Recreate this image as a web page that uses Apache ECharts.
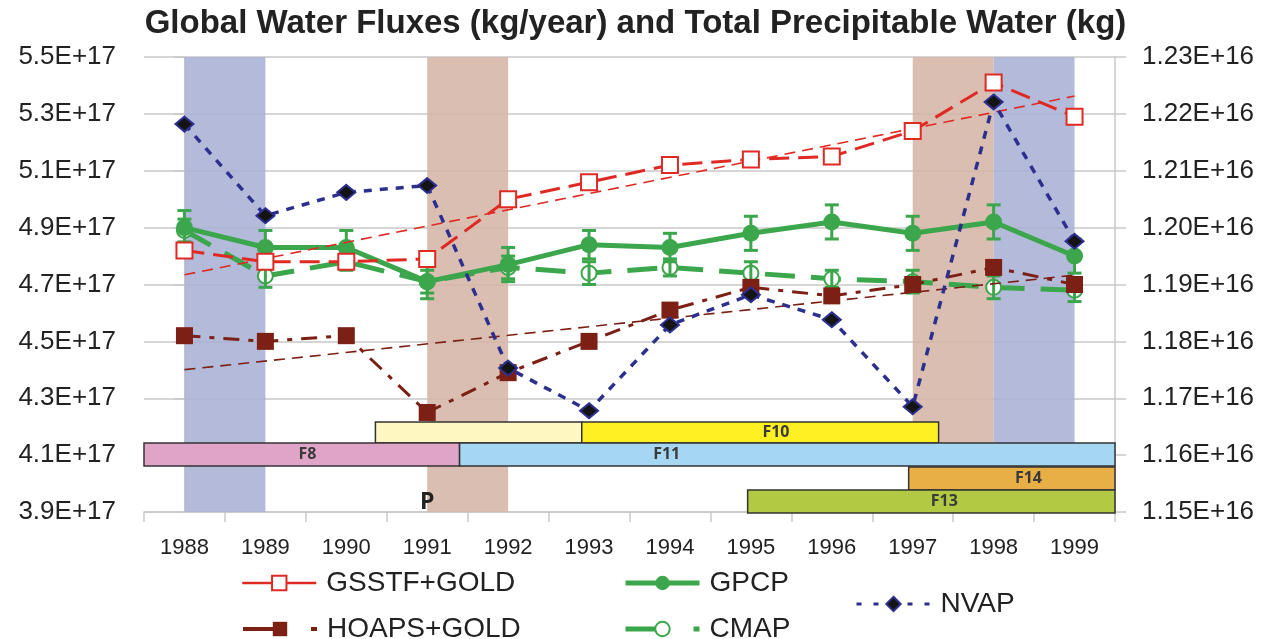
<!DOCTYPE html>
<html>
<head>
<meta charset="utf-8">
<title>Global Water Fluxes and Total Precipitable Water</title>
<script src="https://cdn.jsdelivr.net/npm/echarts@6/dist/echarts.min.js"></script>
<style>
  html, body { margin: 0; padding: 0; background: #ffffff; }
  #chart { width: 1271px; height: 639px; }
</style>
</head>
<body>
<div id="chart"></div>
<script>
// ---- Data -------------------------------------------------------------
const years = ['1988', '1989', '1990', '1991', '1992', '1993',
               '1994', '1995', '1996', '1997', '1998', '1999'];

// Global water fluxes, 1E+17 kg/year (left axis)
const gsstfGold = [4.82, 4.78, 4.78, 4.79, 5.00, 5.06, 5.12, 5.14, 5.15, 5.24, 5.41, 5.29];
const hoapsGold = [4.52, 4.50, 4.52, 4.25, 4.39, 4.50, 4.61, 4.69, 4.66, 4.70, 4.76, 4.70];
const gpcp      = [4.90, 4.83, 4.83, 4.71, 4.77, 4.84, 4.83, 4.88, 4.92, 4.88, 4.92, 4.80];
const gpcpErr   = [0.06, 0.06, 0.06, 0.06, 0.06, 0.05, 0.05, 0.06, 0.06, 0.06, 0.06, 0.06];
const cmap      = [4.89, 4.73, 4.78, 4.71, 4.76, 4.74, 4.76, 4.74, 4.72, 4.71, 4.69, 4.68];
const cmapErr   = [0.04, 0.04, 0.03, 0.04, 0.04, 0.04, 0.03, 0.04, 0.03, 0.04, 0.04, 0.04];

// Total precipitable water, 1E+16 kg (right axis)
const nvap = [1.2182, 1.2021, 1.2062, 1.2074, 1.1753, 1.1678, 1.1829, 1.1882, 1.1838, 1.1685, 1.2221, 1.1976];

// Axis tick labels
const fluxTickLabels = ['3.9E+17', '4.1E+17', '4.3E+17', '4.5E+17', '4.7E+17',
                        '4.9E+17', '5.1E+17', '5.3E+17', '5.5E+17'];
const tpwTickLabels  = ['1.15E+16', '1.16E+16', '1.17E+16', '1.18E+16', '1.19E+16',
                        '1.20E+16', '1.21E+16', '1.22E+16', '1.23E+16'];
const fluxFloor = 3.9;   // lowest left tick, 1E+17 kg/year
const fluxStep = 0.2;
const tpwFloor = 1.15;   // lowest right tick, 1E+16 kg
const tpwStep = 0.01;

// ENSO episodes (shaded, from one year to the next)
const ensoFrom  = ['1988', '1991', '1997', '1998'];
const ensoTo    = ['1989', '1992', '1998', '1999'];
const ensoPhase = ['La Niña', 'El Niño', 'El Niño', 'La Niña'];

// SSM/I satellite records (calendar years)
const satName    = ['',      'F10',   'F8',    'F11',   'F14',   'F13'];
const satStart   = [1990.86, 1993.41, 1988.00, 1991.90, 1997.45, 1995.46];
const satEnd     = [1993.41, 1997.82, 1991.90, 2000.00, 2000.00, 2000.00];
const satLabelAt = [null,    1995.81, 1990.02, 1994.46, 1998.93, 1997.89];

// Pinatubo eruption marker
const eruptionYear = '1991';
const eruptionLabel = 'P';

// ---- Styling ----------------------------------------------------------
const FONT = '"Liberation Sans", Arial, sans-serif';
const RED = '#df2a24';
const DARKRED = '#7c1f14';
const GREEN = '#3ca64c';
const NAVY = '#2d2f8f';
const GRID = '#c9c9c9';
const satRow   = [0, 0, 1, 1, 2, 3];
const satColor = ['#fff7c2', '#fff023', '#e1a4c9', '#a5d7f2', '#e7af46', '#b1c943'];
const rowBox = [[90, 69], [69, 46], [45, 22], [22, -1]]; // px above plot bottom (top, bottom)
const ensoColor = { 'La Niña': 'rgba(168,176,213,0.87)', 'El Niño': 'rgba(213,180,165,0.87)' };

// ---- Helpers ----------------------------------------------------------
const toFlux = v => +(v - fluxFloor).toFixed(6);
const toTpw = v => +((v - tpwFloor) / tpwStep).toFixed(6);

// least-squares linear trend across the whole record
function linearTrend(vals) {
  const n = vals.length;
  let sx = 0, sy = 0, sxx = 0, sxy = 0;
  vals.forEach((y, x) => { sx += x; sy += y; sxx += x * x; sxy += x * y; });
  const b = (n * sxy - sx * sy) / (n * sxx - sx * sx);
  const a = (sy - b * sx) / n;
  return [[0, toFlux(a)], [n - 1, toFlux(a + b * (n - 1))]];
}

function errorBars(color, lineWidth, capHalf) {
  return function (params, api) {
    const x = api.value(0), y = api.value(1), e = api.value(2);
    const hi = api.coord([x, y + e]);
    const lo = api.coord([x, y - e]);
    const st = { stroke: color, lineWidth: lineWidth };
    return {
      type: 'group',
      children: [
        { type: 'line', shape: { x1: hi[0], y1: hi[1], x2: lo[0], y2: lo[1] }, style: st },
        { type: 'line', shape: { x1: hi[0] - capHalf, y1: hi[1], x2: hi[0] + capHalf, y2: hi[1] }, style: st },
        { type: 'line', shape: { x1: lo[0] - capHalf, y1: lo[1], x2: lo[0] + capHalf, y2: lo[1] }, style: st }
      ]
    };
  };
}

const chart = echarts.init(document.getElementById('chart'));

const legendBase = {
  orient: 'horizontal', padding: 0, itemWidth: 74, itemHeight: 18,
  selectedMode: false,
  textStyle: { fontFamily: FONT, fontSize: 28, color: '#222', padding: [0, 0, 0, 5] }
};

const option = {
  backgroundColor: '#ffffff',
  animation: false,
  title: {
    text: 'Global Water Fluxes (kg/year) and Total Precipitable Water (kg)',
    left: 'center',
    top: 2,
    textStyle: { fontFamily: FONT, fontSize: 33, fontWeight: 'bold', color: '#222' }
  },
  legend: [
    { data: [{ name: 'GSSTF+GOLD', lineStyle: { type: 'solid', width: 2.5 } }], left: 241, top: 569 },
    { data: [{ name: 'GPCP', lineStyle: { type: 'solid', width: 5 } }], left: 623, top: 569 },
    { data: [{ name: 'HOAPS+GOLD', lineStyle: { type: [44, 24, 6, 100], width: 4 } }], left: 241, top: 615 },
    { data: [{ name: 'CMAP', lineStyle: { type: [44, 24, 6, 100], width: 5 } }], left: 623, top: 615 },
    { data: [{ name: 'NVAP', lineStyle: { type: [5, 12], width: 3 } }], left: 855, top: 590 }
  ].map(l => Object.assign({}, legendBase, l)),
  grid: { left: 144, right: 156, top: 57, bottom: 127, show: false },
  xAxis: [
    {
      type: 'category', data: years, boundaryGap: true,
      axisLine: { show: true, lineStyle: { color: GRID, width: 1.5 } },
      axisTick: { show: true, length: 10, lineStyle: { color: GRID, width: 1.5 } },
      axisLabel: { fontFamily: FONT, fontSize: 22, color: '#222', margin: 25 },
      splitLine: { show: false }
    },
    { type: 'value', min: -0.5, max: years.length - 0.5, show: false }
  ],
  yAxis: [
    {
      type: 'value', position: 'left',
      min: 0, max: (fluxTickLabels.length - 1) * fluxStep, interval: fluxStep,
      axisLine: { show: true, lineStyle: { color: GRID, width: 1.5 } },
      axisTick: { show: true, length: 11, lineStyle: { color: GRID, width: 1.5 } },
      splitLine: { show: true, lineStyle: { color: GRID, width: 1.5 } },
      axisLabel: { fontFamily: FONT, fontSize: 26, color: '#222', margin: 28,
                   formatter: (v, i) => fluxTickLabels[i] }
    },
    {
      type: 'value', position: 'right',
      min: 0, max: tpwTickLabels.length - 1, interval: 1,
      axisLine: { show: true, lineStyle: { color: GRID, width: 1.5 } },
      axisTick: { show: true, length: 11, lineStyle: { color: GRID, width: 1.5 } },
      splitLine: { show: false },
      axisLabel: { fontFamily: FONT, fontSize: 26, color: '#222', margin: 27,
                   formatter: (v, i) => tpwTickLabels[i] }
    }
  ],
  series: [
    // ENSO shading
    {
      type: 'custom', name: 'ENSO', xAxisIndex: 1, yAxisIndex: 0, silent: true, z: 1,
      data: ensoFrom.map((f, i) => [years.indexOf(f), years.indexOf(ensoTo[i]), i]),
      renderItem: function (params, api) {
        const cs = params.coordSys;
        const x1 = api.coord([api.value(0), 0])[0];
        const x2 = api.coord([api.value(1), 0])[0];
        return {
          type: 'rect',
          shape: { x: x1, y: cs.y, width: x2 - x1, height: cs.height },
          style: { fill: ensoColor[ensoPhase[api.value(2)]] }
        };
      }
    },
    // Satellite records
    {
      type: 'custom', name: 'SSM/I', xAxisIndex: 1, yAxisIndex: 0, silent: true, z: 3,
      data: satName.map((n, i) => [satStart[i] - 1988.5, satEnd[i] - 1988.5, i]),
      renderItem: function (params, api) {
        const cs = params.coordSys;
        const i = api.value(2);
        const bottom = cs.y + cs.height;
        const box = rowBox[satRow[i]];
        const x1 = api.coord([api.value(0), 0])[0];
        const x2 = api.coord([api.value(1), 0])[0];
        const children = [{
          type: 'rect',
          shape: { x: x1, y: bottom - box[0], width: x2 - x1, height: box[0] - box[1] },
          style: { fill: satColor[i], stroke: '#333', lineWidth: 1.5 }
        }];
        if (satName[i]) {
          children.push({
            type: 'text',
            style: {
              x: api.coord([satLabelAt[i] - 1988.5, 0])[0],
              y: bottom - (box[0] + box[1]) / 2,
              text: satName[i], align: 'center', verticalAlign: 'middle',
              font: 'bold 16px "Open Sans", sans-serif', fill: '#3a3a3a'
            }
          });
        }
        return { type: 'group', children: children };
      }
    },
    // Eruption marker
    {
      type: 'custom', name: 'Pinatubo', xAxisIndex: 0, yAxisIndex: 0, silent: true, z: 3,
      data: [[years.indexOf(eruptionYear), 0]],
      renderItem: function (params, api) {
        const p = api.coord([api.value(0), api.value(1)]);
        return {
          type: 'text',
          style: { x: p[0], y: p[1] + 2, text: eruptionLabel, align: 'center', verticalAlign: 'bottom',
                   font: 'bold 23px "Open Sans", sans-serif', fill: '#222' }
        };
      }
    },
    // CMAP line + error bars (bars drawn over the hollow markers)
    {
      type: 'line', name: 'CMAP', xAxisIndex: 0, yAxisIndex: 0, z: 4,
      data: cmap.map(toFlux),
      color: GREEN,
      symbol: 'emptyCircle', symbolSize: 15,
      itemStyle: { color: GREEN, borderColor: GREEN, borderWidth: 2 },
      lineStyle: { color: GREEN, width: 5, type: [30, 16] }
    },
    {
      type: 'custom', name: 'CMAP error', xAxisIndex: 0, yAxisIndex: 0, silent: true, z: 5,
      data: cmap.map((v, i) => [i, toFlux(v), cmapErr[i]]),
      renderItem: errorBars(GREEN, 3, 7)
    },
    // GPCP line + error bars
    {
      type: 'line', name: 'GPCP', xAxisIndex: 0, yAxisIndex: 0, z: 6,
      data: gpcp.map(toFlux),
      color: GREEN,
      symbol: 'circle', symbolSize: 17,
      itemStyle: { color: GREEN },
      lineStyle: { color: GREEN, width: 5 }
    },
    {
      type: 'custom', name: 'GPCP error', xAxisIndex: 0, yAxisIndex: 0, silent: true, z: 6,
      data: gpcp.map((v, i) => [i, toFlux(v), gpcpErr[i]]),
      renderItem: errorBars(GREEN, 3, 7)
    },
    // HOAPS+GOLD
    {
      type: 'line', name: 'HOAPS+GOLD', xAxisIndex: 0, yAxisIndex: 0, z: 7,
      data: hoapsGold.map(toFlux),
      color: DARKRED,
      symbol: 'rect', symbolSize: 17,
      itemStyle: { color: DARKRED },
      lineStyle: { color: DARKRED, width: 3, type: [16, 9, 5, 9] }
    },
    {
      type: 'line', name: 'HOAPS+GOLD trend', xAxisIndex: 1, yAxisIndex: 0, z: 7, silent: true,
      data: linearTrend(hoapsGold), symbol: 'none',
      lineStyle: { color: DARKRED, width: 1.6, type: [11, 7] }
    },
    // GSSTF+GOLD
    {
      type: 'line', name: 'GSSTF+GOLD', xAxisIndex: 0, yAxisIndex: 0, z: 8,
      data: gsstfGold.map(toFlux),
      color: RED,
      symbol: 'emptyRect', symbolSize: 16,
      itemStyle: { color: RED, borderColor: RED, borderWidth: 1.6 },
      lineStyle: { color: RED, width: 3, type: [20, 9] }
    },
    {
      type: 'line', name: 'GSSTF+GOLD trend', xAxisIndex: 1, yAxisIndex: 0, z: 8, silent: true,
      data: linearTrend(gsstfGold), symbol: 'none',
      lineStyle: { color: RED, width: 1.6, type: [11, 7] }
    },
    // NVAP (right axis)
    {
      type: 'line', name: 'NVAP', xAxisIndex: 0, yAxisIndex: 1, z: 9,
      data: nvap.map(toTpw),
      color: NAVY,
      symbol: 'diamond', symbolSize: [18, 15],
      itemStyle: { color: '#141414', borderColor: NAVY, borderWidth: 2 },
      lineStyle: { color: NAVY, width: 3.5, type: [8, 8] }
    }
  ]
};

chart.setOption(option);
</script>
</body>
</html>
